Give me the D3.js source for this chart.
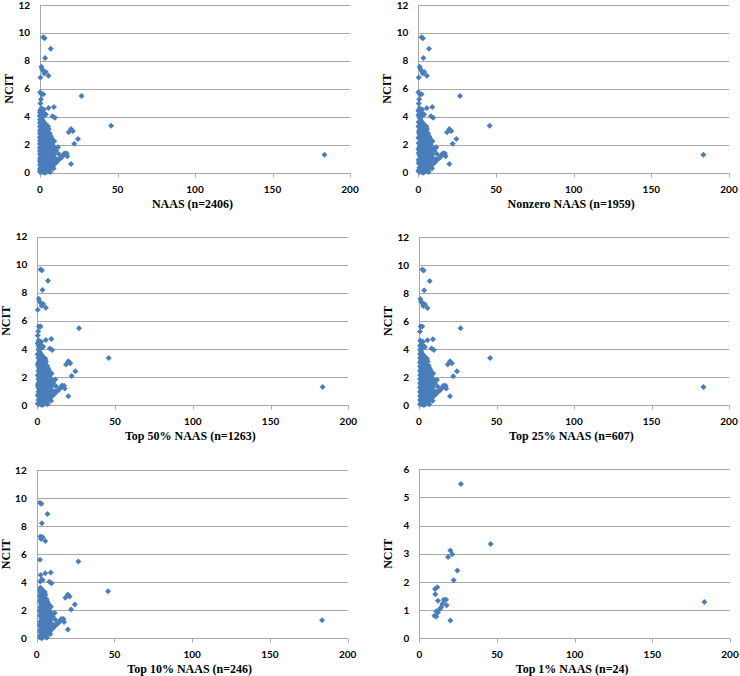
<!DOCTYPE html>
<html>
<head>
<meta charset="utf-8">
<script src="https://cdn.jsdelivr.net/npm/d3@7"></script>
<style>
  body { margin: 0; background: #fff; }
  .tick-label { font: bold 10px Lato, sans-serif; fill: #000; }
  .axis-title { font: bold 12px "Liberation Serif", "Times New Roman", serif; fill: #000; }
</style>
</head>
<body>
<script>
// panel settings
var panelTitles = ["NAAS (n=2406)", "Nonzero NAAS (n=1959)", "Top 50% NAAS (n=1263)",
                   "Top 25% NAAS (n=607)", "Top 10% NAAS (n=246)", "Top 1% NAAS (n=24)"];
var panelMinNaas = [0, 0.05, 0.2, 0.4, 2, 9.65];
var panelYMax = [12, 12, 12, 12, 12, 6];
var panelYStep = [2, 2, 2, 2, 2, 1];
var xTicks = [0, 50, 100, 150, 200];

// [NAAS, NCIT], grouped by NAAS range
var zeroNaas = [[0,0.05],[0,0.3],[0,0.55],[0,0.8],[0,1.05],[0,1.3],[0,1.55],[0,1.8],[0,2.05],
  [0,2.3],[0,2.55],[0,2.8],[0,3.05],[0,3.3],[0,3.55],[0,3.8],[0,4.05],[0,4.3]];
var lowNaas = [[0.1,5.75],[0.1,0.15],[0.1,0.9],[0.1,1.7],[0.1,2.5],[0.1,3.3],[0.1,4.1],[0.1,4.45],
  [0.3,6.8],[0.3,0.1],[0.3,0.7],[0.25,1.4],[0.3,2.1],[0.3,2.9],[0.25,3.6],[0.3,4.4],[0.3,4.95]];
var midNaas = [[0.9,7.57],[1.3,7.4],[0.6,5.25],[1.0,5.6],[0.8,4.6],[1.5,4.3],[1.2,4.55],
  [0.7,0.05],[0.7,0.35],[0.7,0.65],[0.7,0.95],[0.7,1.25],[0.7,1.55],[0.7,1.85],[0.7,2.15],
  [0.7,2.45],[0.7,2.75],[0.7,3.05],[0.7,3.35],[0.7,3.65],[0.7,3.95],[0.7,4.25],
  [1.4,0.2],[1.4,0.5],[1.4,0.8],[1.4,1.1],[1.4,1.4],[1.4,1.7],[1.4,2.0],[1.4,2.3],
  [1.4,2.6],[1.4,2.9],[1.4,3.2],[1.4,3.5],[1.4,3.8],[1.4,4.1],
  [1.8,0.1],[1.8,0.4],[1.8,0.7],[1.8,1.0],[1.8,1.3],[1.8,1.6],[1.8,1.9],[1.8,2.2],
  [1.8,2.5],[1.8,2.8],[1.8,3.1],[1.8,3.4],[1.8,3.7]];
var top10Naas = [[2.1,9.67],[3.0,9.6],[6.9,8.86],[3.3,8.2],[2.8,7.08],[3.8,7.2],[2.4,7.25],[5.5,6.93],
  [2.1,5.6],[2.5,4.51],[5.5,4.63],[9.0,4.7],[3.8,4.15],[8.1,4.03],[9.6,3.92],[2.3,4.05],[3.2,4.2],
  [2.3,3.6],[3.0,3.55],[2.2,3.4],[3.5,3.45],[4.4,3.35],[5.2,3.3],
  [2.5,3.2],[3.3,3.15],[4.1,3.2],[5.6,3.1],
  [2.1,3.0],[3.0,2.95],[3.9,3.0],[4.8,2.9],[6.3,2.8],
  [2.6,2.8],[3.6,2.75],[5.3,2.7],[7.0,2.6],
  [2.2,2.6],[3.2,2.55],[4.4,2.6],[6.0,2.5],[7.6,2.45],
  [2.8,2.4],[4.0,2.35],[5.0,2.4],[8.2,2.3],[9.2,2.25],
  [2.3,2.2],[3.5,2.15],[4.6,2.2],[5.8,2.1],[6.8,2.1],
  [2.0,2.0],[3.0,1.95],[4.2,2.0],[5.4,1.9],[7.4,1.85],[8.8,1.8],
  [2.6,1.8],[3.8,1.75],[4.9,1.8],[6.2,1.7],[9.4,1.7],
  [2.2,1.6],[3.3,1.55],[4.5,1.6],[5.7,1.5],[6.9,1.55],[8.0,1.5],
  [2.9,1.4],[4.0,1.35],[5.2,1.4],[6.4,1.3],[7.6,1.35],[9.0,1.3],
  [2.4,1.2],[3.5,1.15],[4.7,1.2],[5.9,1.1],[7.1,1.15],[8.4,1.1],[9.3,1.05],
  [2.0,1.0],[3.0,0.95],[4.2,1.0],[5.4,0.9],[6.6,0.95],[7.8,0.9],[9.1,0.85],
  [2.6,0.8],[3.8,0.75],[4.9,0.8],[6.1,0.7],[7.3,0.75],[8.6,0.7],[9.3,0.6],
  [2.2,0.6],[3.3,0.55],[4.5,0.6],[5.6,0.5],[6.8,0.55],[8.1,0.45],
  [2.8,0.4],[4.0,0.35],[5.1,0.4],[6.3,0.3],[7.5,0.35],[8.8,0.3],
  [2.3,0.2],[3.5,0.15],[4.6,0.2],[5.8,0.1],[2.1,0.05],[6.6,0.05],[3.2,0.0],
  [2.6,3.5],[4.0,3.1],[2.7,3.3],[4.8,3.2],[3.4,2.85],[4.6,2.75],[2.4,2.7],[5.8,2.6],
  [3.8,2.5],[5.4,2.3],[6.6,2.3],[3.0,2.3],[4.0,2.1],[6.2,1.95],[8.0,2.0],[3.4,1.85],
  [5.6,1.7],[7.0,1.75],[8.4,1.65],[2.8,1.65],[4.0,1.5],[6.3,1.5],[7.6,1.55],[3.5,1.3],
  [4.6,1.3],[5.8,1.3],[8.2,1.25],[3.0,1.1],[4.2,1.1],[6.4,1.05],[7.8,1.05],[2.4,0.9],
  [3.6,0.85],[4.8,0.9],[6.0,0.85],[8.4,0.85],[2.9,0.65],[4.1,0.65],[5.3,0.65],[7.0,0.6],
  [2.5,0.45],[3.6,0.4],[4.7,0.45],[6.0,0.45],[7.1,0.45],[3.0,0.25],[4.2,0.25],[5.3,0.2],
  [2.6,0.1],[3.9,0.05]];
var top1Naas = [[26.8,5.48],[45.9,3.35],[183.5,1.29],[20.0,3.12],[21.2,2.98],[18.5,2.89],
  [24.5,2.41],[22.1,2.06],[20.0,0.63],[10.1,1.75],[11.6,1.81],[10.3,1.56],[12.0,1.33],
  [17.2,1.37],[15.7,1.37],[14.8,1.22],[14.0,1.1],[13.3,1.04],[17.6,1.17],[10.9,0.96],
  [9.7,0.8],[10.9,0.77],[12.0,0.92],[16.3,1.34]];

var points = zeroNaas.concat(lowNaas, midNaas, top10Naas, top1Naas);

// plot frames: left, right, top, bottom
var frames = [
  [40, 350, 4.7, 172.7], [418.3, 729, 4.7, 172.7],
  [37.3, 348.3, 236.7, 405], [419, 729, 237, 405],
  [36.7, 347.7, 470, 638.3], [419.3, 730, 469.3, 638.3]
];

var svg = d3.select("body").append("svg")
    .attr("width", 740)
    .attr("height", 676);

var diamond = "M0,-3L3,0L0,3L-3,0Z";

frames.forEach(function(f, i) {
  var x = d3.scaleLinear().domain([0, 200]).range([f[0], f[1]]);
  var y = d3.scaleLinear().domain([0, panelYMax[i]]).range([f[3], f[2]]);
  var yTicks = d3.range(0, panelYMax[i] + 0.001, panelYStep[i]);
  var g = svg.append("g");

  // gridlines
  g.selectAll(".grid").data(yTicks.slice(1)).enter().append("line")
    .attr("x1", f[0]).attr("x2", f[1])
    .attr("y1", function(d) { return Math.round(y(d)) + 0.5; })
    .attr("y2", function(d) { return Math.round(y(d)) + 0.5; })
    .attr("stroke", "#a8a8a8");

  // axes lines
  var yb = Math.round(f[3]) + 0.5;
  g.append("line").attr("x1", Math.round(f[0]) + 0.5).attr("x2", Math.round(f[0]) + 0.5)
    .attr("y1", f[2]).attr("y2", yb).attr("stroke", "#a8a8a8");
  g.append("line").attr("x1", f[0]).attr("x2", f[1]).attr("y1", yb).attr("y2", yb)
    .attr("stroke", "#a8a8a8");
  g.selectAll(".xt").data(xTicks).enter().append("line")
    .attr("x1", function(d) { return Math.round(x(d)) + 0.5; })
    .attr("x2", function(d) { return Math.round(x(d)) + 0.5; })
    .attr("y1", yb).attr("y2", yb + 4).attr("stroke", "#a8a8a8");

  // tick labels
  g.selectAll(".yl").data(yTicks).enter().append("text")
    .attr("class", "tick-label")
    .attr("x", f[0] - 10).attr("y", function(d) { return Math.max(y(d), 5); })
    .attr("dy", "0.36em").attr("text-anchor", "end")
    .text(function(d) { return d; });
  g.selectAll(".xl").data(xTicks).enter().append("text")
    .attr("class", "tick-label")
    .attr("x", function(d) { return x(d); }).attr("y", f[3] + 20)
    .attr("text-anchor", "middle")
    .text(function(d) { return d; });

  // titles
  g.append("text").attr("class", "axis-title")
    .attr("x", (f[0] + f[1]) / 2 - 2.5).attr("y", f[3] + 35)
    .attr("text-anchor", "middle")
    .text(panelTitles[i]);
  g.append("text").attr("class", "axis-title")
    .attr("transform", "translate(" + (f[0] - 27) + "," + ((f[2] + f[3]) / 2) + ") rotate(-90)")
    .attr("text-anchor", "middle")
    .text("NCIT");

  // points
  var sub = points.filter(function(p) { return p[0] >= panelMinNaas[i] && (i === 0 || p[0] > 0); });
  g.selectAll(".pt").data(sub).enter().append("path")
    .attr("d", diamond)
    .attr("transform", function(d) { return "translate(" + x(d[0]) + "," + y(d[1]) + ")"; })
    .attr("fill", "#4a7ebb");
});
</script>
</body>
</html>
